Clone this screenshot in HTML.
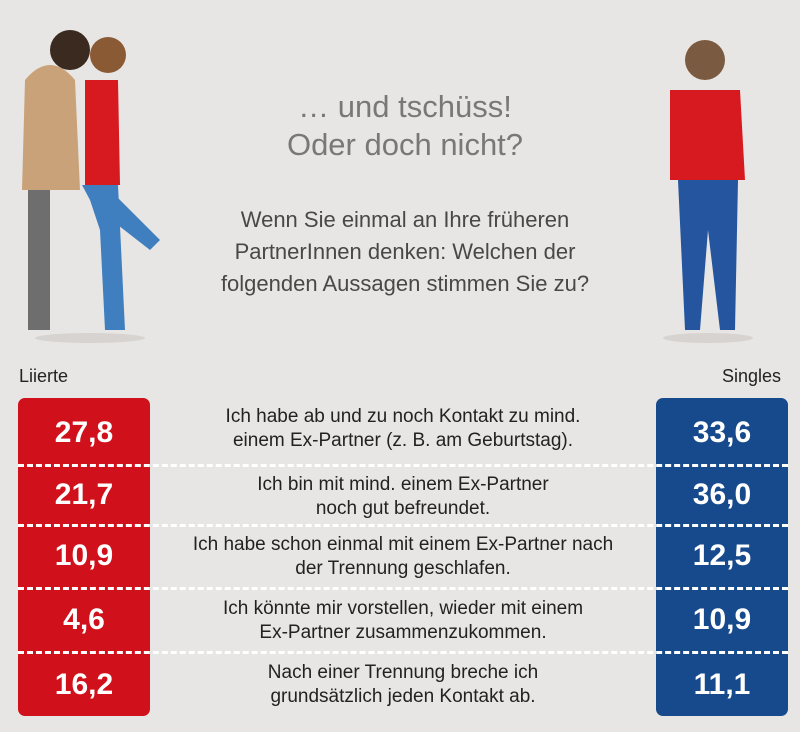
<!DOCTYPE html><html><head><style>
body{margin:0;width:800px;height:732px;background:#e8e6e4;font-family:"Liberation Sans",sans-serif;position:relative;overflow:hidden}
.t{position:absolute;text-align:center;color:#7a7876}
.box{position:absolute;top:398px;width:132px;height:318px;border-radius:7px}
.num{position:absolute;width:132px;text-align:center;color:#fff;font-size:30px;font-weight:bold;line-height:30px}
.dash{position:absolute;left:18px;width:770px;border-top:3px dashed #fff}
.row{position:absolute;left:160px;width:486px;text-align:center;font-size:19px;line-height:24px;color:#222}
</style></head><body>
<div class="t" style="left:200px;top:88px;width:410px;font-size:31px;line-height:38px">… und tschüss!<br>Oder doch nicht?</div>
<div class="t" style="left:180px;top:204px;width:450px;font-size:22px;line-height:32px;color:#4a4846">Wenn Sie einmal an Ihre früheren<br>PartnerInnen denken: Welchen der<br>folgenden Aussagen stimmen Sie zu?</div>
<svg style="position:absolute;left:0;top:0" width="800" height="360">
<ellipse cx="90" cy="338" rx="55" ry="5" fill="#d6d3d0"/>
<rect x="28" y="180" width="22" height="150" fill="#6e6e6e"/>
<path d="M25 80 Q50 50 75 80 L80 190 L22 190 Z" fill="#c9a27a"/>
<circle cx="70" cy="50" r="20" fill="#3a2a20"/>
<path d="M85 80 L118 80 L120 185 L85 185Z" fill="#d71a1f"/>
<circle cx="108" cy="55" r="18" fill="#8a5a35"/>
<path d="M82 185 L118 185 L125 330 L105 330 L100 230 L90 200Z" fill="#3f7fc0"/>
<path d="M110 190 L160 240 L150 250 L105 215Z" fill="#3f7fc0"/>
<ellipse cx="708" cy="338" rx="45" ry="5" fill="#d6d3d0"/>
<circle cx="705" cy="60" r="20" fill="#7a5a40"/>
<path d="M670 90 L740 90 L745 180 L670 180Z" fill="#d71a1f"/>
<path d="M678 180 L738 180 L735 330 L720 330 L708 230 L700 330 L685 330Z" fill="#24559e"/>
</svg>
<div style="position:absolute;left:19px;top:366px;font-size:18px;color:#222">Liierte</div>
<div style="position:absolute;left:722px;top:366px;font-size:18px;color:#222">Singles</div>
<div class="box" style="left:18px;background:#d0101a"></div>
<div class="box" style="left:656px;background:#174a8c"></div>
<div class="dash" style="top:464px"></div><div class="dash" style="top:524px"></div><div class="dash" style="top:587px"></div><div class="dash" style="top:651px"></div>
<div class="num" style="left:18px;top:418px">27,8</div><div class="num" style="left:656px;top:418px">33,6</div>
<div class="num" style="left:18px;top:480px">21,7</div><div class="num" style="left:656px;top:480px">36,0</div>
<div class="num" style="left:18px;top:541px">10,9</div><div class="num" style="left:656px;top:541px">12,5</div>
<div class="num" style="left:18px;top:605px">4,6</div><div class="num" style="left:656px;top:605px">10,9</div>
<div class="num" style="left:18px;top:670px">16,2</div><div class="num" style="left:656px;top:670px">11,1</div>
<div class="row" style="top:405px">Ich habe ab und zu noch Kontakt zu mind.<br>einem Ex-Partner (z. B. am Geburtstag).</div>
<div class="row" style="top:473px">Ich bin mit mind. einem Ex-Partner<br>noch gut befreundet.</div>
<div class="row" style="top:533px">Ich habe schon einmal mit einem Ex-Partner nach<br>der Trennung geschlafen.</div>
<div class="row" style="top:597px">Ich könnte mir vorstellen, wieder mit einem<br>Ex-Partner zusammenzukommen.</div>
<div class="row" style="top:661px">Nach einer Trennung breche ich<br>grundsätzlich jeden Kontakt ab.</div>
</body></html>
